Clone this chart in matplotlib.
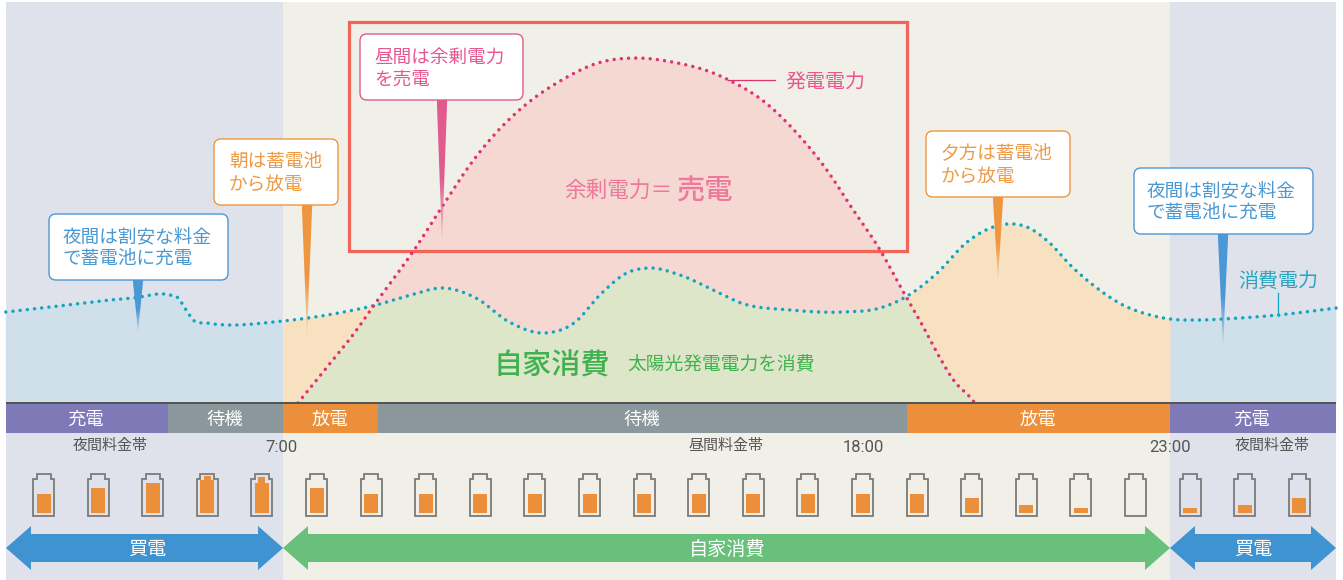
#!/usr/bin/env python3

import numpy as np
import matplotlib
matplotlib.use('Agg')
import matplotlib.pyplot as plt
from matplotlib.colors import to_rgb
from matplotlib.patches import Rectangle, FancyBboxPatch, Polygon
from matplotlib.transforms import Affine2D

plt.rcParams['font.family'] = ['Noto Sans CJK JP', 'DejaVu Sans']

# time of day (2:00 to 2:00 next day) and power in arbitrary units
use_hours = [2.0, 2.49, 3.10, 3.70, 4.29, 4.96, 5.11, 5.23, 5.38, 5.63, 7.0, 7.90,
             8.68, 9.31, 9.89, 10.48, 11.08, 11.73, 12.25, 12.75, 13.20, 13.60,
             14.16, 14.76, 15.26, 16.15, 17.10, 17.77, 18.20, 18.80, 19.34, 19.81,
             20.06, 20.42, 20.83, 21.20, 21.68, 22.15, 22.64, 23.0, 23.54, 23.96,
             24.95, 26.0]
use_power = [0.91, 0.94, 0.98, 1.02, 1.05, 1.08, 1.05, 0.95, 0.83, 0.80, 0.82, 0.89,
             0.98, 1.08, 1.15, 1.05, 0.81, 0.70, 0.80, 1.10, 1.30, 1.35,
             1.28, 1.13, 1.00, 0.93, 0.91, 0.95, 1.05, 1.30, 1.61, 1.76,
             1.79, 1.76, 1.60, 1.38, 1.15, 0.98, 0.88, 0.84, 0.83, 0.84,
             0.88, 0.95]
solar_hours = [7.27, 7.90, 8.26, 8.71, 9.07, 9.34, 9.89, 10.41, 10.84, 11.37, 12.03,
               12.68, 13.35, 14.02, 14.76, 15.04, 15.71, 16.25, 16.81, 17.25, 17.77,
               18.20, 18.53, 18.83, 19.12, 19.39, 19.48]
solar_power = [0.0, 0.43, 0.68, 1.03, 1.30, 1.51, 1.98, 2.41, 2.70, 2.98, 3.23,
               3.40, 3.45, 3.41, 3.30, 3.23, 3.00, 2.71, 2.33, 1.96, 1.53,
               1.10, 0.78, 0.47, 0.21, 0.06, 0.0]

# battery fill per hour, body height and the nub on top
batt_level = [19, 25, 30, 33, 30, 25, 19, 19, 19, 19, 19, 19, 19, 19, 19, 19, 19,
              15, 8, 5, 0, 5, 8, 15]
batt_nub = [0, 0, 0, 4, 6, 0, 0, 0, 0, 0, 0, 0, 0, 0, 0, 0, 0, 0, 0, 0, 0, 0, 0, 0]

state_labels = ['充電', '待機', '放電', '待機', '放電', '充電']
state_edges = [6, 168, 283, 378, 907, 1170, 1336]
state_colors = ['#8079b8', '#8a979c', '#ec8f3b', '#8a979c', '#ec8f3b', '#8079b8']

W, H = 1343, 580
PX_HOUR = 55.44
PX_UNIT = 100.0

fig = plt.figure(figsize=(W / 100, H / 100), dpi=100)
ax = fig.add_axes([0, 0, 1, 1])
ax.set_xlim(7 - 283 / PX_HOUR, 7 + (W - 283) / PX_HOUR)
ax.set_ylim(-(H - 403) / PX_UNIT, 403 / PX_UNIT)
ax.axis('off')

# layout furniture is placed in image pixels, y down
pix = Affine2D().scale(1, -1).translate(0, H)


def rect(x0, y0, x1, y1, z=1, **kw):
    ax.add_patch(Rectangle((x0, y0), x1 - x0, y1 - y0, transform=pix, zorder=z, **kw))


def label(x, y, s, size, color, z=8, ha='center', **kw):
    ax.text(x, y, s, transform=pix, fontsize=size, color=color, ha=ha, va='center',
            zorder=z, **kw)


def curve(t, xs, ys):
    # cubic hermite through the read points, only to draw a round line
    xs = np.asarray(xs)
    ys = np.asarray(ys)
    m = np.gradient(ys, xs)
    i = np.clip(np.searchsorted(xs, t) - 1, 0, len(xs) - 2)
    h = xs[i + 1] - xs[i]
    u = (t - xs[i]) / h
    return ((2 * u**3 - 3 * u**2 + 1) * ys[i] + (u**3 - 2 * u**2 + u) * h * m[i]
            + (-2 * u**3 + 3 * u**2) * ys[i + 1] + (u**3 - u**2) * h * m[i + 1])


rect(6, 2, 283, H, facecolor='#dfe2ea', edgecolor='none')
rect(283, 2, 1170, H, facecolor='#f0f0e8', edgecolor='none')
rect(1170, 2, 1336, H, facecolor='#dfe2ea', edgecolor='none')

t = np.round(np.arange(2.0, 26.0 + 0.005, 0.01), 2)
use = curve(t, use_hours, use_power)
solar = np.maximum(curve(t, solar_hours, solar_power), 0)
solar[(t < solar_hours[0]) | (t > solar_hours[-1])] = 0

day = (t >= 7) & (t <= 23)
ax.fill_between(t, 0, use, where=~day | (t == 7) | (t == 23), color='#cfe0ea', lw=0, zorder=2)
ax.fill_between(t, 0, use, where=day, color='#f8e1c0', lw=0, zorder=2)
ax.fill_between(t, 0, np.minimum(use, solar), where=day, color='#dee6c9', lw=0, zorder=3)
ax.fill_between(t, use, solar, where=day & (solar > use), color='#f5d8d2', lw=0, zorder=3)

rect(348.5, 22, 907, 251, z=4, facecolor='none', edgecolor='#f0645a', linewidth=2.3)

dots = (0, (0.01, 2.07))
ax.plot(t, use, color='#12a5bf', lw=2.5, ls=dots, dash_capstyle='round', zorder=5)
m = (t >= solar_hours[0]) & (t <= solar_hours[-1])
ax.plot(t[m], solar[m], color='#e0336f', lw=2.5, ls=dots, dash_capstyle='round', zorder=5)


def callout(x0, y0, x1, y1, tip_x, tip_y, lines, color, text_color, x_text):
    # needle fades out towards the tip
    half = 5.2
    grad = np.ones((200, 2, 4))
    grad[..., :3] = to_rgb(color)
    grad[..., 3] = np.clip(1.0 - (np.linspace(0, 1, 200)[:, None] - 0.55) / 0.45 * 0.85, 0.15, 1.0)
    im = ax.imshow(grad, extent=(tip_x - half, tip_x + half, tip_y, y1), aspect='auto',
                   interpolation='bilinear', zorder=6, transform=pix)
    im.set_clip_path(Polygon([(tip_x - half, y1), (tip_x + half, y1), (tip_x, tip_y)], transform=pix))
    ax.add_patch(FancyBboxPatch((x0 + 6, y0 + 6), x1 - x0 - 12, y1 - y0 - 12,
                                boxstyle='round,pad=6,rounding_size=7', transform=pix,
                                facecolor='white', edgecolor=color, linewidth=1.0, zorder=7))
    for j, s in enumerate(lines):
        label(x_text, y0 + 23.5 + j * 22.5, s, 13.4, text_color, ha='left')


callout(49, 214, 228, 280, 138, 332, ['夜間は割安な料金', 'で蓄電池に充電'], '#4a98d6', '#4a98d2', 63)
callout(214, 139, 338, 205, 307, 337, ['朝は蓄電池', 'から放電'], '#ef9640', '#ee9a45', 229)
callout(360, 34, 523, 100, 442, 243, ['昼間は余剰電力', 'を売電'], '#e05c8e', '#e8588f', 374)
callout(926, 131, 1070, 197, 998, 280, ['夕方は蓄電池', 'から放電'], '#ef9640', '#ee9a45', 941)
callout(1134, 168, 1313, 234, 1223, 347, ['夜間は割安な料金', 'で蓄電池に充電'], '#4a98d6', '#4a98d2', 1147)

ax.plot([728, 775], [80, 80], transform=pix, color='#e0336f', lw=0.9, zorder=6)
label(785, 83, '発電電力', 14.4, '#e8588f', ha='left')
ax.plot([1278, 1278], [293, 316], transform=pix, color='#12a5bf', lw=0.9, zorder=6)
label(1238, 281, '消費電力', 14.4, '#2aa5c0', ha='left')

label(564, 191, '余剰電力＝', 15.6, '#f0789a', ha='left')
label(677, 191, '売電', 20.3, '#f0789a', ha='left', fontweight='medium')
label(494, 366, '自家消費', 21, '#3fb24f', ha='left', fontweight='medium')
label(627, 365, '太陽光発電電力を消費', 13.5, '#3fb24f', ha='left')

# status strip
rect(6, 402, 1336, 404, z=6, facecolor='#555555', edgecolor='none')
for i, s in enumerate(state_labels):
    x0, x1 = state_edges[i], state_edges[i + 1]
    rect(x0, 404, x1, 433, z=5, facecolor=state_colors[i], edgecolor='none')
    label((x0 + x1) / 2 - 1, 420, s, 13.2, 'white')

for x, s in [(110, '夜間料金帯'), (726, '昼間料金帯'), (1272, '夜間料金帯')]:
    label(x, 446, s, 10.8, '#555555')
for x, s in [(282, '7:00'), (863, '18:00'), (1170, '23:00')]:
    label(x, 447, s, 12, '#555555', family=['Roboto', 'DejaVu Sans'])

# batteries
for i in range(24):
    cx = 43.5 + i * 54.6
    outline = [(cx - 10.5, 516), (cx - 10.5, 479), (cx - 7, 479), (cx - 7, 474), (cx + 7, 474),
               (cx + 7, 479), (cx + 10.5, 479), (cx + 10.5, 516)]
    ax.add_patch(Polygon(outline, closed=True, transform=pix, facecolor='none',
                         edgecolor='#7a7a7a', linewidth=1.3, zorder=5))
    if batt_level[i] > 0:
        rect(cx - 7, 513 - batt_level[i], cx + 7, 513, z=6, facecolor='#ec8f3b', edgecolor='none')
    if batt_nub[i] > 0:
        rect(cx - 3.5, 513 - batt_level[i] - batt_nub[i], cx + 3.5, 513 - batt_level[i], z=6,
             facecolor='#ec8f3b', edgecolor='none')


# price arrows
def double_arrow(x0, x1, color, s, text_x):
    head = 25
    pts = [(x0, 548), (x0 + head, 526), (x0 + head, 534), (x1 - head, 534), (x1 - head, 526),
           (x1, 548), (x1 - head, 570), (x1 - head, 562), (x0 + head, 562), (x0 + head, 570)]
    ax.add_patch(Polygon(pts, closed=True, transform=pix, facecolor=color, edgecolor='none', zorder=5))
    label(text_x, 549, s, 13.8, 'white')


double_arrow(6, 283, '#3f93d1', '買電', 147)
double_arrow(283, 1170, '#68c07a', '自家消費', 727)
double_arrow(1170, 1336, '#3f93d1', '買電', 1253)

fig.savefig('out.png', dpi=100)
plt.close(fig)
